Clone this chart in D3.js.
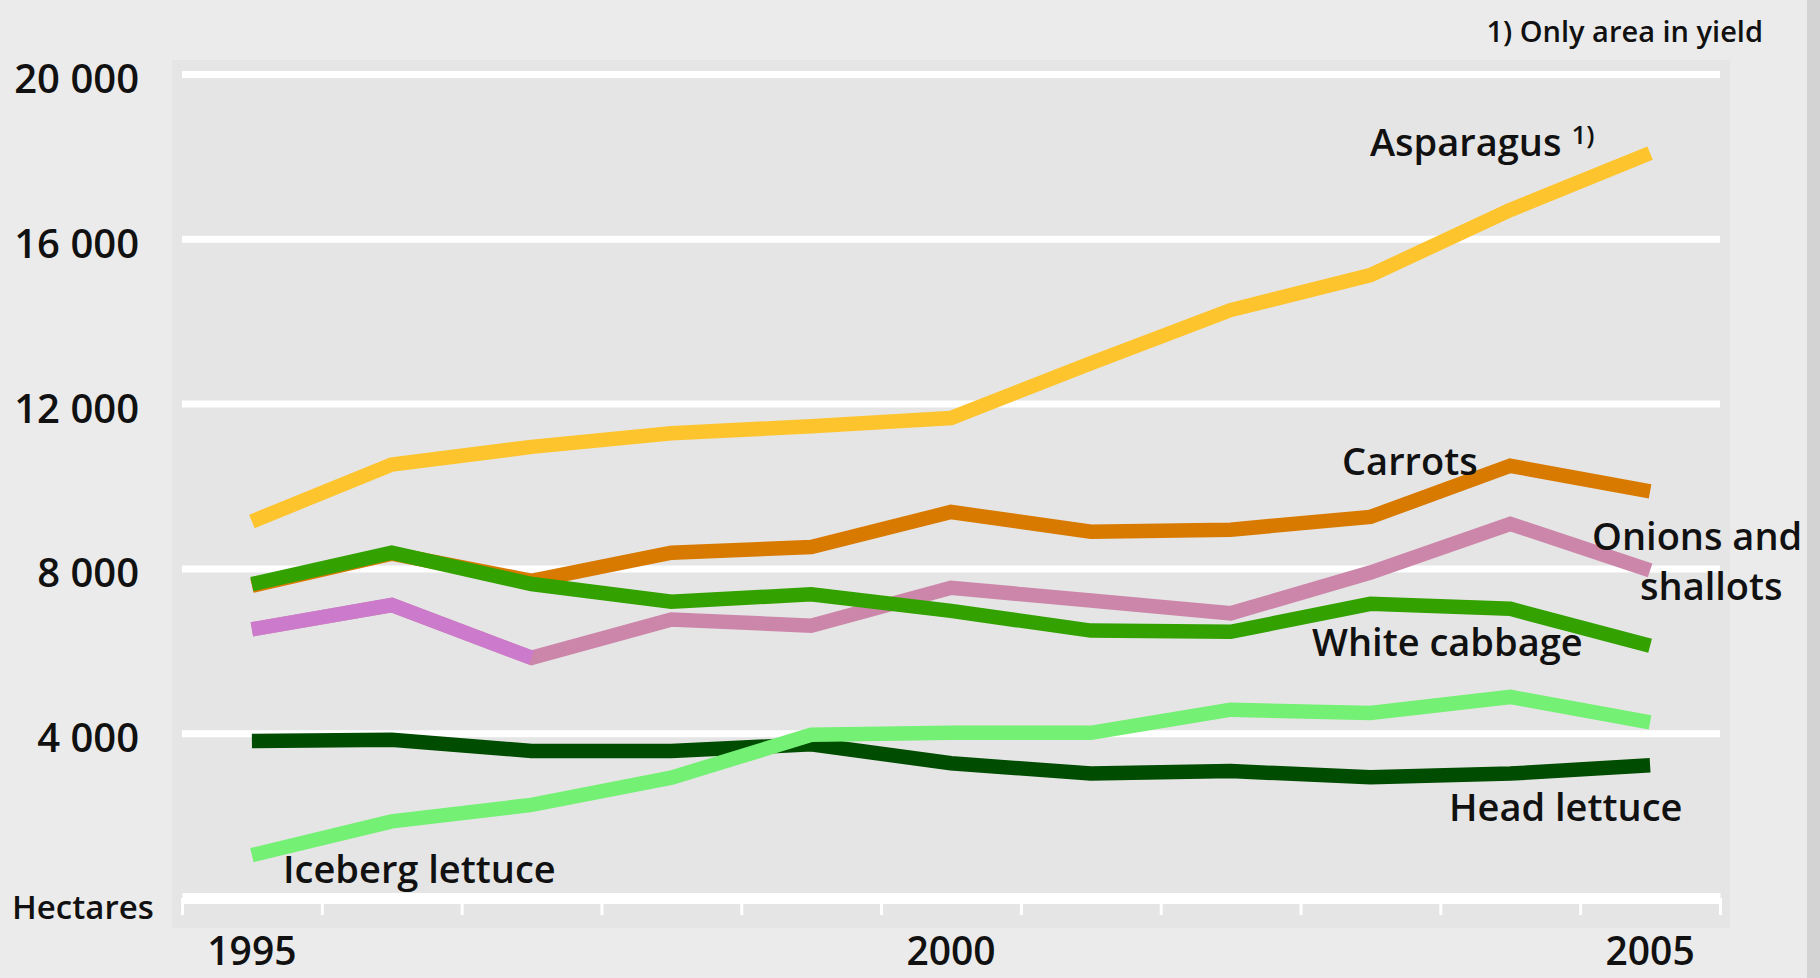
<!DOCTYPE html>
<html>
<head>
<meta charset="utf-8">
<script src="https://cdnjs.cloudflare.com/ajax/libs/d3/7.8.5/d3.min.js"></script>
<style>
  html, body { margin: 0; padding: 0; background: #ebebeb; }
  svg { display: block; font-family: 'Open Sans', sans-serif; font-weight: 600; }
</style>
</head>
<body>
<div id="chart"></div>
<script>
// Vegetable area in hectares, 1995-2005
const years = [1995, 1996, 1997, 1998, 1999, 2000, 2001, 2002, 2003, 2004, 2005];
const yearLabels = [1995, 2000, 2005];
const yTicks = [4000, 8000, 12000, 16000, 20000];

const asparagus = [9140, 10520, 10950, 11280, 11450, 11650, 12980, 14270, 15120, 16700, 18080];
const carrots = [7580, 8360, 7700, 8380, 8520, 9370, 8890, 8940, 9250, 10490, 9870];
const onions = [6520, 7110, 5830, 6760, 6610, 7530, 7220, 6910, 7900, 9080, 7950];
const whiteCabbage = [7620, 8380, 7620, 7190, 7370, 6970, 6490, 6460, 7140, 7020, 6120];
const headLettuce = [3810, 3840, 3570, 3570, 3730, 3270, 3020, 3080, 2930, 3020, 3220];
const icebergLettuce = [1040, 1860, 2260, 2920, 3960, 4010, 4010, 4570, 4490, 4880, 4260];

const WIDTH = 1820;
const HEIGHT = 978;
const PLOT = { LEFT: 182, RIGHT: 1720, TOP: 74, BOTTOM: 898 };
const LINE_WIDTH = 14.5;

const series = [
  { key: 'carrots', values: carrots, color: '#d97a00' },
  { key: 'onions', values: onions, color: '#cc86aa' },
  { key: 'whiteCabbage', values: whiteCabbage, color: '#33a100' },
  { key: 'headLettuce', values: headLettuce, color: '#004c00' },
  { key: 'icebergLettuce', values: icebergLettuce, color: '#74f074' },
  { key: 'asparagus', values: asparagus, color: '#fdc42e' },
];

const xScale = d3.scaleBand().domain(years).range([PLOT.LEFT, PLOT.RIGHT]);
const xCenter = (year) => xScale(year) + xScale.bandwidth() / 2;
const xEdge = d3.scaleLinear().domain([0, years.length]).range([PLOT.LEFT, PLOT.RIGHT]);
const yScale = d3.scaleLinear().domain([0, 20000]).range([PLOT.BOTTOM, PLOT.TOP]);

const locale = d3.formatLocale({ decimal: '.', thousands: ' ', grouping: [3], currency: ['', ''] });
const fmt = locale.format(',');

const svg = d3.select('#chart').append('svg').attr('width', WIDTH).attr('height', HEIGHT);

// backgrounds
svg.append('rect').attr('width', WIDTH).attr('height', HEIGHT).attr('fill', '#ebebeb');
svg.append('rect').attr('x', 1807).attr('y', 0).attr('width', WIDTH - 1807).attr('height', HEIGHT).attr('fill', '#d3d3d3');
svg.append('rect').attr('x', 172).attr('y', 60).attr('width', 1558).attr('height', 868).attr('fill', '#e5e5e5');

// horizontal grid lines with labels
const yAxis = svg
  .append('g')
  .attr('transform', 'translate(' + PLOT.LEFT + ',0)')
  .call(
    d3.axisLeft(yScale)
      .tickValues(yTicks)
      .tickFormat(fmt)
      .tickSizeInner(-(PLOT.RIGHT - PLOT.LEFT))
      .tickSizeOuter(0)
      .tickPadding(43)
  );
yAxis.select('.domain').remove();
yAxis.selectAll('.tick line').attr('stroke', '#ffffff').attr('stroke-width', 7);
yAxis.selectAll('.tick text')
  .attr('fill', '#111')
  .attr('font-size', 40)
  .attr('font-family', "'Open Sans', sans-serif")
  .attr('font-weight', 600)
  .attr('dy', '0.46em');

// bottom axis line and band ticks
const xAxis = svg
  .append('g')
  .attr('transform', 'translate(0,' + PLOT.BOTTOM + ')')
  .call(d3.axisBottom(xEdge).ticks(years.length).tickFormat('').tickSizeInner(17).tickSizeOuter(0));
xAxis.select('.domain').attr('stroke', '#ffffff').attr('stroke-width', 11);
xAxis.selectAll('.tick line').attr('stroke', '#ffffff').attr('stroke-width', 3);

svg.append('g')
  .selectAll('text')
  .data(yearLabels)
  .join('text')
  .attr('x', (d) => xCenter(d))
  .attr('y', 965)
  .attr('text-anchor', 'middle')
  .attr('font-size', 39)
  .attr('fill', '#111')
  .text((d) => d);

svg.append('text').attr('x', 12).attr('y', 919).attr('font-size', 33).attr('fill', '#111').text('Hectares');

// lines
const line = d3
  .line()
  .x((d, i) => xCenter(years[i]))
  .y((d) => yScale(d));

series.forEach((s) => {
  svg
    .append('path')
    .datum(s.values)
    .attr('fill', 'none')
    .attr('stroke', s.color)
    .attr('stroke-width', LINE_WIDTH)
    .attr('stroke-linejoin', 'miter')
    .attr('stroke-linecap', 'butt')
    .attr('d', line);
  if (s.key === 'onions') {
    // first years are drawn in a lilac tone
    svg
      .append('path')
      .datum(s.values.slice(0, 3))
      .attr('fill', 'none')
      .attr('stroke', '#cc7acc')
      .attr('stroke-width', LINE_WIDTH)
      .attr('stroke-linecap', 'butt')
      .attr('d', line);
  }
});

// series labels
const labels = svg.append('g').attr('fill', '#111').attr('font-size', 38);
const asp = labels.append('text').attr('x', 1370).attr('y', 156);
asp.append('tspan').text('Asparagus');
asp.append('tspan').attr('font-size', 26).attr('dx', 10).attr('dy', -12).text('1)');
labels.append('text').attr('x', 1342).attr('y', 475).text('Carrots');
labels.append('text').attr('x', 1592).attr('y', 550).text('Onions and');
labels.append('text').attr('x', 1640).attr('y', 600).text('shallots');
labels.append('text').attr('x', 1312).attr('y', 656).text('White cabbage');
labels.append('text').attr('x', 1449).attr('y', 821).text('Head lettuce');
labels.append('text').attr('x', 283).attr('y', 883).text('Iceberg lettuce');

svg.append('text')
  .attr('x', 1763)
  .attr('y', 42)
  .attr('text-anchor', 'end')
  .attr('font-size', 29)
  .attr('fill', '#111')
  .text('1) Only area in yield');
</script>
</body>
</html>
